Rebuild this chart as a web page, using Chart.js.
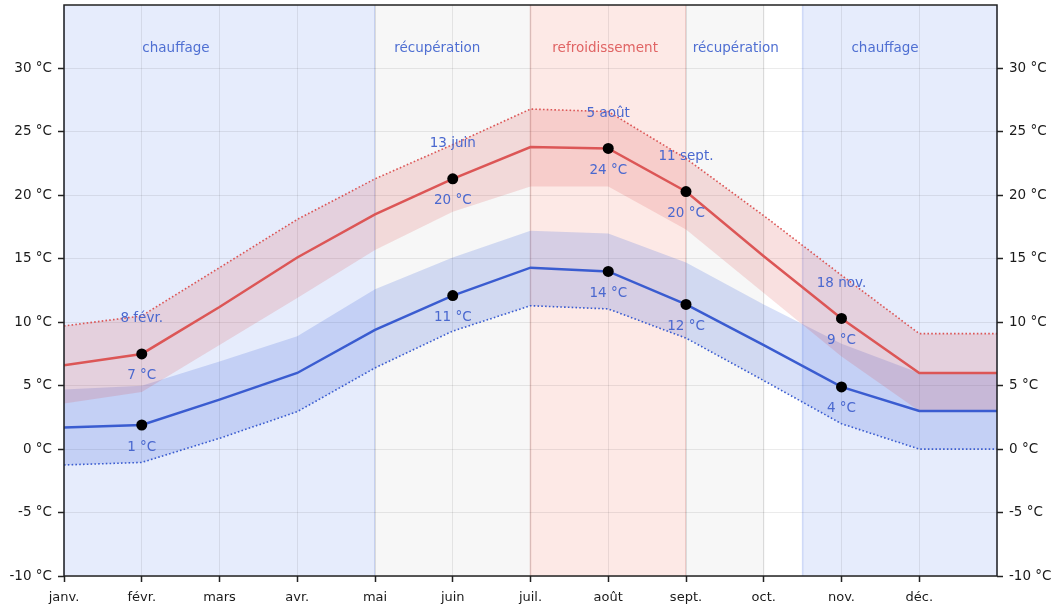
<!DOCTYPE html>
<html lang="fr">
<head>
<meta charset="utf-8">
<title>Températures mensuelles et saisons</title>
<script src="https://cdn.jsdelivr.net/npm/chart.js@4.4.1/dist/chart.umd.min.js"></script>
<style>
  html, body { margin: 0; padding: 0; background: #ffffff; }
  #wrap { width: 1055px; height: 610px; }
</style>
</head>
<body>
<div id="wrap"><canvas id="chart" width="1055" height="610"></canvas></div>
<script>
// Months on the x axis (position i = start of month i, 12 = end of year)
const months = ['janv.', 'févr.', 'mars', 'avr.', 'mai', 'juin', 'juil.', 'août', 'sept.', 'oct.', 'nov.', 'déc.'];
const monthPos = [0, 1, 2, 3, 4, 5, 6, 7, 8, 9, 10, 11, 12];

// Daily maximum: mean and spread (°C)
const highMean  = [6.6, 7.5, 11.2, 15.1, 18.5, 21.3, 23.8, 23.7, 20.3, 15.2, 10.3, 6.0, 6.0];
const highUpper = [9.7, 10.5, 14.3, 18.1, 21.3, 24.0, 26.8, 26.6, 22.9, 18.4, 13.7, 9.1, 9.1];
const highLower = [3.6, 4.5, 8.2, 11.9, 15.7, 18.7, 20.7, 20.7, 17.3, 12.3, 7.3, 3.0, 3.0];

// Daily minimum: mean and spread (°C)
const lowMean  = [1.7, 1.9, 3.9, 6.0, 9.4, 12.1, 14.3, 14.0, 11.4, 8.2, 4.9, 3.0, 3.0];
const lowUpper = [4.7, 5.0, 6.9, 8.9, 12.6, 15.1, 17.2, 17.0, 14.7, 11.4, 8.3, 6.0, 6.0];
const lowLower = [-1.25, -1.05, 0.85, 2.95, 6.4, 9.3, 11.3, 11.05, 8.75, 5.4, 2.0, 0.0, 0.0];

// Temperature ticks
const tempTicks = [-10, -5, 0, 5, 10, 15, 20, 25, 30];

// Highlighted months and their annotations
const markedMonths = [1, 5, 7, 8, 10];
const highDates  = ['8 févr.', '13 juin', '5 août', '11 sept.', '18 nov.'];
const highValues = ['7 °C', '20 °C', '24 °C', '20 °C', '9 °C'];
const lowValues  = ['1 °C', '11 °C', '14 °C', '12 °C', '4 °C'];

// Seasons of the building (in month positions)
const seasonNames = ['chauffage', 'récupération', 'refroidissement', 'récupération', 'chauffage'];
const seasonStart = [0, 4, 6, 8, 9.5];
const seasonEnd   = [4, 6, 8, 9, 12];
const seasonLabelAt = [1.44, 4.8, 6.96, 8.64, 10.56];

// ---- styling ----
const RED = '#dc5656';
const BLUE = '#3a5cd0';
const NOTE = '#4a68cf';
const FONT = '"DejaVu Sans", "Liberation Sans", sans-serif';
const seasonStyle = {
  'chauffage':       { fill: '#e6ecfc', edge: 'rgba(110,140,235,0.28)', text: '#4f6fd2' },
  'récupération':    { fill: '#f7f7f7', edge: 'rgba(0,0,0,0.05)',       text: '#4f6fd2' },
  'refroidissement': { fill: '#fde9e6', edge: 'rgba(215,120,110,0.28)', text: '#e06464' }
};

const pts = arr => monthPos.map(i => ({ x: i, y: arr[i] }));

const seasonsPlugin = {
  id: 'seasons',
  beforeDraw(chart) {
    const { ctx, chartArea: a, scales: { x } } = chart;
    ctx.save();
    seasonNames.forEach((name, i) => {
      const st = seasonStyle[name];
      const x0 = x.getPixelForValue(seasonStart[i]);
      const x1 = x.getPixelForValue(seasonEnd[i]);
      ctx.fillStyle = st.fill;
      ctx.fillRect(x0, a.top, x1 - x0, a.bottom - a.top);
      ctx.strokeStyle = st.edge;
      ctx.lineWidth = 1.5;
      ctx.beginPath();
      ctx.moveTo(x0, a.top); ctx.lineTo(x0, a.bottom);
      ctx.moveTo(x1, a.top); ctx.lineTo(x1, a.bottom);
      ctx.stroke();
    });
    ctx.restore();
  },
  afterDatasetsDraw(chart) {
    const { ctx, scales: { x, y } } = chart;
    ctx.save();
    ctx.textAlign = 'center';
    ctx.textBaseline = 'middle';
    // season names
    ctx.font = '13.5px ' + FONT;
    seasonNames.forEach((name, i) => {
      ctx.fillStyle = seasonStyle[name].text;
      ctx.fillText(name, x.getPixelForValue(seasonLabelAt[i]), y.getPixelForValue(31.6));
    });
    // annotations around the highlighted points
    ctx.fillStyle = NOTE;
    markedMonths.forEach((m, k) => {
      const px = x.getPixelForValue(m);
      const hy = y.getPixelForValue(highMean[m]);
      const ly = y.getPixelForValue(lowMean[m]);
      ctx.fillText(highDates[k], px, hy - 35);
      ctx.fillText(highValues[k], px, hy + 22);
      ctx.fillText(lowValues[k], px, ly + 22);
    });
    ctx.restore();
  },
  afterDraw(chart) {
    const { ctx, chartArea: a } = chart;
    ctx.save();
    ctx.strokeStyle = '#222';
    ctx.lineWidth = 1.5;
    ctx.strokeRect(a.left, a.top, a.right - a.left, a.bottom - a.top);
    ctx.restore();
  }
};

const markRadius = ctx => markedMonths.includes(ctx.dataIndex) ? 5.5 : 0;

const yTickOpts = {
  color: '#1a1a1a',
  font: { family: FONT, size: 13.5 },
  padding: 6,
  callback: v => v + ' °C'
};

const fitVertical = w => s => { s.width = w; s.paddingTop = 0; s.paddingBottom = 0; };

new Chart(document.getElementById('chart'), {
  type: 'line',
  data: {
    datasets: [
      { label: 'max haut', data: pts(highUpper), borderColor: RED, borderWidth: 1.6, borderDash: [1.6, 2.2],
        pointRadius: 0, fill: '+1', backgroundColor: 'rgba(220,60,60,0.16)', tension: 0 },
      { label: 'max bas', data: pts(highLower), borderWidth: 0, borderColor: 'rgba(0,0,0,0)',
        pointRadius: 0, fill: false, tension: 0 },
      { label: 'max moyen', data: pts(highMean), borderColor: RED, borderWidth: 2.5,
        pointRadius: markRadius, pointBackgroundColor: '#000', pointBorderWidth: 0, fill: false, tension: 0 },
      { label: 'min haut', data: pts(lowUpper), borderWidth: 0, borderColor: 'rgba(0,0,0,0)',
        pointRadius: 0, fill: '+1', backgroundColor: 'rgba(60,100,220,0.2)', tension: 0 },
      { label: 'min bas', data: pts(lowLower), borderColor: BLUE, borderWidth: 1.6, borderDash: [1.6, 2.2],
        pointRadius: 0, fill: false, tension: 0 },
      { label: 'min moyen', data: pts(lowMean), borderColor: BLUE, borderWidth: 2.5,
        pointRadius: markRadius, pointBackgroundColor: '#000', pointBorderWidth: 0, fill: false, tension: 0 }
    ]
  },
  options: {
    responsive: false,
    animation: false,
    events: [],
    devicePixelRatio: 1,
    layout: { padding: { top: 5, left: 0, right: 0, bottom: 0 } },
    plugins: {
      legend: { display: false },
      tooltip: { enabled: false },
      filler: { drawTime: 'beforeDatasetsDraw' }
    },
    scales: {
      x: {
        type: 'linear', position: 'bottom', min: 0, max: 12,
        afterBuildTicks: s => { s.ticks = months.map((m, i) => ({ value: i })); },
        afterFit: s => { s.height = 34; s.paddingLeft = 0; s.paddingRight = 0; },
        grid: { color: 'rgba(0,0,0,0.08)', lineWidth: 1, drawTicks: true, tickLength: 6, tickColor: '#222', tickWidth: 1.5 },
        border: { display: false },
        ticks: { color: '#1a1a1a', font: { family: FONT, size: 13 }, padding: 8, maxRotation: 0, autoSkip: false,
                 callback: v => months[v] }
      },
      y: {
        type: 'linear', position: 'left', min: -10, max: 35,
        afterBuildTicks: s => { s.ticks = tempTicks.map(v => ({ value: v })); },
        afterFit: fitVertical(64),
        grid: { color: 'rgba(0,0,0,0.08)', lineWidth: 1, drawTicks: true, tickLength: 6, tickColor: '#222', tickWidth: 1.5 },
        border: { display: false },
        ticks: yTickOpts
      },
      y2: {
        type: 'linear', position: 'right', min: -10, max: 35,
        afterBuildTicks: s => { s.ticks = tempTicks.map(v => ({ value: v })); },
        afterFit: fitVertical(58),
        grid: { drawOnChartArea: false, drawTicks: true, tickLength: 6, tickColor: '#222', tickWidth: 1.5 },
        border: { display: false },
        ticks: yTickOpts
      }
    }
  },
  plugins: [seasonsPlugin]
});
</script>
</body>
</html>
